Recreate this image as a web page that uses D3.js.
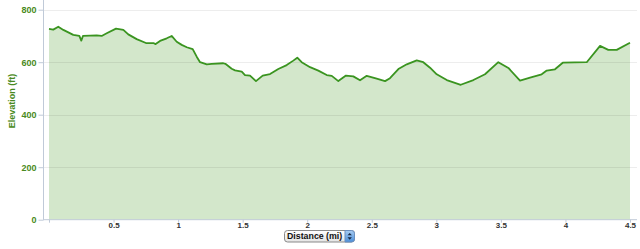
<!DOCTYPE html>
<html>
<head>
<meta charset="utf-8">
<script src="https://cdn.jsdelivr.net/npm/d3@7"></script>
<style>
  html, body { margin: 0; padding: 0; background: #fff; }
  svg { display: block; }
</style>
</head>
<body>
<div id="chart"></div>
<script>
// elevation profile
const distances = [0, 0.033, 0.072, 0.111, 0.188, 0.235, 0.25, 0.263, 0.318, 0.369, 0.408, 0.447,
  0.519, 0.576, 0.614, 0.679, 0.751, 0.808, 0.826, 0.86, 0.912, 0.95, 0.989, 1.028, 1.067, 1.113,
  1.144, 1.17, 1.222, 1.26, 1.35, 1.366, 1.415, 1.441, 1.493, 1.518, 1.557, 1.603, 1.655, 1.712,
  1.776, 1.841, 1.892, 1.923, 1.957, 2.022, 2.086, 2.151, 2.19, 2.241, 2.3, 2.357, 2.409, 2.461,
  2.538, 2.603, 2.641, 2.706, 2.771, 2.848, 2.899, 2.951, 3.003, 3.081, 3.189, 3.287, 3.377, 3.48,
  3.558, 3.648, 3.726, 3.816, 3.855, 3.919, 3.979, 4.165, 4.268, 4.332, 4.397, 4.5];
const elevations = [727, 724, 735, 723, 704, 700, 682, 700, 701, 702, 700, 710,
  728, 723, 706, 688, 673, 673, 669, 681, 691, 700, 678, 666, 657, 650,
  621, 600, 592, 594, 596, 594, 575, 569, 564, 551, 549, 528, 549, 555,
  574, 589, 606, 617, 600, 581, 568, 551, 548, 528, 549, 546, 531, 548,
  537, 528, 539, 574, 592, 607, 600, 579, 554, 532, 514, 532, 554, 600,
  578, 530, 541, 554, 568, 573, 598, 600, 662, 647, 647, 674];
const yTicks = [0, 200, 400, 600, 800];
const xTicks = [0, 0.5, 1, 1.5, 2, 2.5, 3, 3.5, 4, 4.5];

const width = 640;
const height = 249;
const font = "'Liberation Sans', Arial, sans-serif";

const svg = d3.select("#chart")
  .append("svg")
    .attr("width", width)
    .attr("height", height);

const x = d3.scaleLinear().domain([0, 4.5]).range([49, 630]);
const y = d3.scaleLinear().domain([0, 800]).range([219.7, 9.7]);

const data = distances.map((d, i) => ({ d: d, e: elevations[i] }));

// area
svg.append("path")
  .datum(data)
  .attr("fill", "#d3e7cb")
  .attr("d", d3.area().x(p => x(p.d)).y0(y(0)).y1(p => y(p.e)));

// grid lines (show through the fill)
svg.append("g")
  .selectAll("line")
  .data(yTicks.filter(t => t > 0))
  .join("line")
    .attr("x1", 43).attr("x2", 637)
    .attr("y1", t => Math.round(y(t)) + 0.5).attr("y2", t => Math.round(y(t)) + 0.5)
    .attr("stroke", "rgba(0,0,0,0.07)");

// line
svg.append("path")
  .datum(data)
  .attr("fill", "none")
  .attr("stroke", "#3a9420")
  .attr("stroke-width", 1.8)
  .attr("stroke-linejoin", "round")
  .attr("d", d3.line().x(p => x(p.d)).y(p => y(p.e)));

// y axis
const yAxis = svg.append("g")
  .attr("transform", "translate(43.5,0)")
  .call(d3.axisLeft(y).tickValues(yTicks).tickSize(5).tickPadding(2).tickFormat(d3.format("d")));
yAxis.select(".domain").attr("stroke", "#c0cad8").attr("d", `M0,${y(800) - 10}V${y(0)}`);
yAxis.selectAll(".tick line").attr("stroke", "#c0cad8");
yAxis.selectAll("text")
  .attr("fill", "#4a8a22")
  .style("font", `bold 9px ${font}`);

// x axis
const xAxis = svg.append("g")
  .attr("transform", `translate(0,${y(0)})`)
  .call(d3.axisBottom(x).tickValues(xTicks).tickSize(3).tickPadding(0)
    .tickFormat(d => d === 0 ? "" : d3.format("")(d)));
xAxis.select(".domain").attr("stroke", "#c0cad8").attr("d", `M43,0H637`);
xAxis.selectAll(".tick line").attr("stroke", "#c0cad8");
xAxis.selectAll("text")
  .attr("fill", "#333")
  .style("font", `bold 8px ${font}`);

// y title
svg.append("text")
  .attr("transform", "translate(15,101) rotate(-90)")
  .attr("text-anchor", "middle")
  .attr("fill", "#4a8a22")
  .style("font", `bold 9px ${font}`)
  .text("Elevation (ft)");

// unit selector under the x axis
const defs = svg.append("defs");
const grad = defs.append("linearGradient")
  .attr("id", "btn").attr("x1", 0).attr("y1", 0).attr("x2", 0).attr("y2", 1);
grad.append("stop").attr("offset", "0%").attr("stop-color", "#ffffff");
grad.append("stop").attr("offset", "100%").attr("stop-color", "#e4e4e4");
const blue = defs.append("linearGradient")
  .attr("id", "btnBlue").attr("x1", 0).attr("y1", 0).attr("x2", 0).attr("y2", 1);
blue.append("stop").attr("offset", "0%").attr("stop-color", "#a8ccf2");
blue.append("stop").attr("offset", "100%").attr("stop-color", "#4a8ed9");

const sel = svg.append("g").attr("transform", "translate(284.5,230.5)");
sel.append("rect")
  .attr("width", 70).attr("height", 11.5).attr("rx", 3)
  .attr("fill", "url(#btn)").attr("stroke", "#8a8a8a");
sel.append("path")
  .attr("d", "M60.5,0H67a3,3 0 0 1 3,3V8.5a3,3 0 0 1 -3,3H60.5Z")
  .attr("fill", "url(#btnBlue)").attr("stroke", "#6a8fc0");
sel.append("path").attr("d", "M63,4.8L65.2,2.4L67.4,4.8Z").attr("fill", "#1a2a44");
sel.append("path").attr("d", "M63,6.8L65.2,9.2L67.4,6.8Z").attr("fill", "#1a2a44");
sel.append("text")
  .attr("x", 2.5).attr("y", 8.8)
  .attr("fill", "#111")
  .style("font", `bold 8.8px ${font}`)
  .text("Distance (mi)");
</script>
</body>
</html>
